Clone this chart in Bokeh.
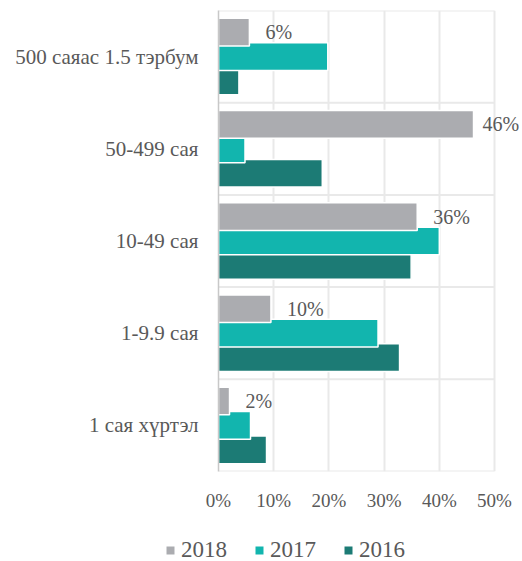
import numpy as np
from bokeh.plotting import figure
from bokeh.layouts import column
from bokeh.models import ColumnDataSource, FixedTicker, Legend, LegendItem, Range1d, LabelSet
from bokeh.embed import file_html
from bokeh.resources import INLINE

# ---- data (bottom to top) ----
categories = ["1 сая хүртэл", "1-9.9 сая", "10-49 сая", "50-499 сая", "500 саяас 1.5 тэрбум"]
v2018 = [2.0, 9.5, 36.0, 46.2, 5.6]
v2017 = [5.8, 28.9, 40.0, 4.8, 19.8]
v2016 = [8.7, 32.8, 34.9, 18.8, 3.7]
labels2018 = ["2%", "10%", "36%", "46%", "6%"]
x_ticks = [0, 10, 20, 30, 40, 50]
x_tick_labels = ["0%", "10%", "20%", "30%", "40%", "50%"]
series_names = ["2018", "2017", "2016"]

FONT = "Liberation Serif"
TXT = "#595959"
GRID = "#e9e9e9"
C2018, C2017, C2016 = "#ABACB0", "#12B5AE", "#1C7B75"

n = len(categories)
centers = np.arange(n) + 0.5
H = 0.30
OFF = 0.265

W = 522
LEFT = 218
PLOT_W = 276            # pixel width of the 0..50 % scale
xmax = x_ticks[-1]
x_end = xmax * (W - LEFT) / PLOT_W   # leave room on the right for the 46% label

p = figure(width=W, height=513, output_backend="svg", toolbar_location=None,
           x_range=Range1d(0, x_end), y_range=Range1d(0, n),
           min_border_left=LEFT, min_border_right=0, min_border_top=10, min_border_bottom=42)
p.frame_align = False
p.outline_line_color = None
p.background_fill_color = "white"
p.border_fill_color = "white"

# horizontal grid lines (category boundaries), limited to the 0..50 % scale
bounds = list(range(n + 1))
p.segment(x0=[x_ticks[0]] * len(bounds), x1=[xmax] * len(bounds), y0=bounds, y1=bounds,
          line_color=GRID, line_width=2)

r16 = p.hbar(y=centers - OFF, right=v2016, left=0, height=H, fill_color=C2016,
             line_color="white", line_width=1.5)
r17 = p.hbar(y=centers, right=v2017, left=0, height=H, fill_color=C2017,
             line_color="white", line_width=1.5)
r18 = p.hbar(y=centers + OFF, right=v2018, left=0, height=H, fill_color=C2018,
             line_color="white", line_width=1.5)

# data labels for 2018
xoff = [9 if v > 44 else 16 for v in v2018]
lab_src = ColumnDataSource(dict(x=v2018, y=list(centers + OFF), t=labels2018, xo=xoff))
labels = LabelSet(x="x", y="y", text="t", source=lab_src, x_offset="xo", y_offset=0,
                  text_font=FONT, text_font_size="20px", text_color=TXT,
                  text_baseline="middle", text_align="left")
p.add_layout(labels)

# vertical grid
p.xgrid.ticker = FixedTicker(ticks=x_ticks)
p.xgrid.grid_line_color = GRID
p.xgrid.grid_line_width = 2
p.ygrid.visible = False

# x axis
p.xaxis.ticker = FixedTicker(ticks=x_ticks)
p.xaxis.major_label_overrides = {t: l for t, l in zip(x_ticks, x_tick_labels)}
p.xaxis.axis_line_color = None
p.xaxis.major_tick_line_color = None
p.xaxis.minor_tick_line_color = None
p.xaxis.major_label_standoff = 12
p.xaxis.major_label_text_font = FONT
p.xaxis.major_label_text_font_size = "19px"
p.xaxis.major_label_text_color = TXT

# y axis
p.yaxis.ticker = FixedTicker(ticks=list(centers))
p.yaxis.major_label_overrides = {float(c): l for c, l in zip(centers, categories)}
p.yaxis.axis_line_color = "#c8c8c8"
p.yaxis.axis_line_width = 1.5
p.yaxis.major_tick_line_color = None
p.yaxis.minor_tick_line_color = None
p.yaxis.major_label_standoff = 14
p.yaxis.major_label_text_font = FONT
p.yaxis.major_label_text_font_size = "21px"
p.yaxis.major_label_text_color = TXT

# ---- legend strip (its own small plot; the swatch renderers hold the series
#      data but lie outside this strip's ranges, so only the legend is seen) ----
lg = figure(width=W, height=48, output_backend="svg", toolbar_location=None,
            x_range=Range1d(0, 1), y_range=Range1d(100, 101),
            x_axis_location=None, y_axis_location=None,
            min_border_left=0, min_border_right=0, min_border_top=0, min_border_bottom=0)
lg.frame_align = False
lg.grid.visible = False
lg.outline_line_color = None
lg.border_fill_color = "white"
series_vals = [v2018, v2017, v2016]
colors = [C2018, C2017, C2016]
swatches = [lg.hbar(y=centers, right=v, left=0, height=H, fill_color=c, line_color=None)
            for v, c in zip(series_vals, colors)]

legend = Legend(items=[LegendItem(label=s, renderers=[r]) for s, r in zip(series_names, swatches)],
                location=(165, -2), orientation="horizontal")
legend.padding = 0
legend.margin = 0
legend.spacing = 27
legend.label_standoff = 6
legend.glyph_width = 10
legend.glyph_height = 10
legend.border_line_color = None
legend.background_fill_alpha = 0
legend.label_text_font = FONT
legend.label_text_font_size = "23px"
legend.label_text_color = TXT
lg.add_layout(legend, "center")

layout = column(p, lg, spacing=0)
open("out.html", "w").write(file_html(layout, INLINE))
